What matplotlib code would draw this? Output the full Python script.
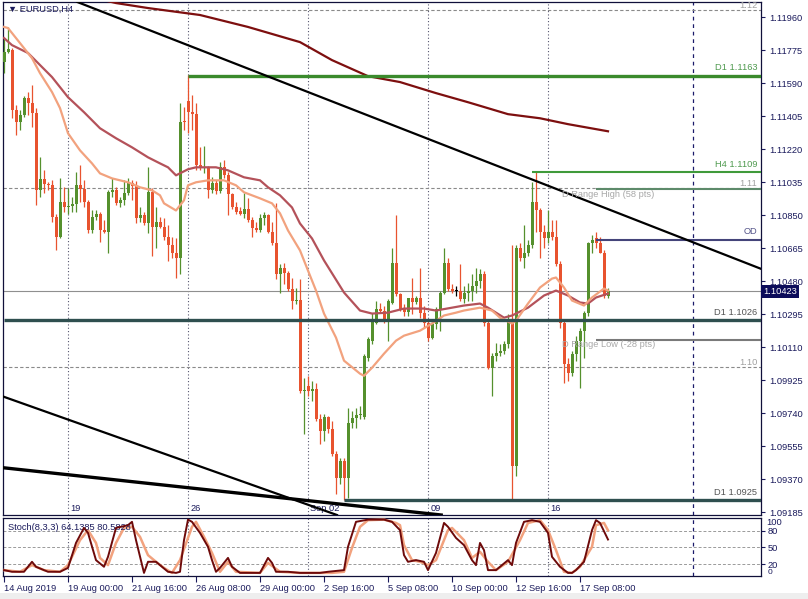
import matplotlib
matplotlib.use("Agg")
import matplotlib.pyplot as plt
import matplotlib.transforms as mtransforms
from matplotlib.patches import Rectangle
import numpy as np

# EURUSD H4 candles, first bar 14 Aug 2019 08:00
opens = [1.11708, 1.11764, 1.11776, 1.11438, 1.11371, 1.11410, 1.11506, 1.11478, 1.11422, 1.10989,
         1.11051, 1.11022, 1.11017, 1.10837, 1.10725, 1.10921, 1.10893, 1.10899, 1.10910, 1.11017,
         1.10994, 1.10921, 1.10764, 1.10837, 1.10859, 1.10764, 1.10758, 1.10978, 1.10989, 1.10916,
         1.10933, 1.10972, 1.11028, 1.11011, 1.10831, 1.10848, 1.10803, 1.10978, 1.10781, 1.10809,
         1.10781, 1.10725, 1.10680, 1.10640, 1.10612, 1.11380, 1.11489, 1.11427, 1.11416, 1.11129,
         1.11112, 1.11118, 1.10989, 1.11028, 1.10983, 1.11118, 1.11073, 1.10966, 1.10893, 1.10871,
         1.10854, 1.10882, 1.10820, 1.10775, 1.10764, 1.10831, 1.10848, 1.10753, 1.10691, 1.10522,
         1.10556, 1.10528, 1.10438, 1.10371, 1.10376, 1.09865, 1.09893, 1.09865, 1.09876, 1.09707,
         1.09640, 1.09719, 1.09651, 1.09511, 1.09376, 1.09471, 1.09376, 1.09685, 1.09713, 1.09730,
         1.09719, 1.10050, 1.10146, 1.10247, 1.10326, 1.10314, 1.10258, 1.10359, 1.10584, 1.10410,
         1.10326, 1.10309, 1.10385, 1.10365, 1.10387, 1.10303, 1.10247, 1.10163, 1.10242, 1.10326,
         1.10416, 1.10584, 1.10438, 1.10427, 1.10427, 1.10382, 1.10416, 1.10427, 1.10455, 1.10483,
         1.10522, 1.10247, 1.09994, 1.10061, 1.10078, 1.10090, 1.10129, 1.10258, 1.09443, 1.10668,
         1.10612, 1.10640, 1.10680, 1.10921, 1.10876, 1.10753, 1.10719, 1.10753, 1.10725, 1.10578,
         1.10247, 1.10016, 1.09966, 1.10073, 1.10146, 1.10202, 1.10303, 1.10691, 1.10720, 1.10691,
         1.10640, 1.10399]
highs = [1.11837, 1.11905, 1.11787, 1.11466, 1.11438, 1.11517, 1.11540, 1.11579, 1.11450, 1.11174,
         1.11101, 1.11034, 1.11045, 1.10859, 1.11056, 1.11006, 1.11000, 1.10949, 1.11090, 1.11129,
         1.11045, 1.10933, 1.10876, 1.10876, 1.10865, 1.10820, 1.10989, 1.11056, 1.11006, 1.10949,
         1.11045, 1.11056, 1.11045, 1.11039, 1.10893, 1.10865, 1.11118, 1.11000, 1.10893, 1.10837,
         1.10831, 1.10792, 1.10725, 1.10719, 1.11478, 1.11455, 1.11635, 1.11523, 1.11478, 1.11230,
         1.11236, 1.11124, 1.11062, 1.11045, 1.11146, 1.11157, 1.11090, 1.10972, 1.10921, 1.10893,
         1.10972, 1.10944, 1.10837, 1.10809, 1.10854, 1.10865, 1.10859, 1.10809, 1.10916, 1.10578,
         1.10584, 1.10539, 1.10500, 1.10444, 1.10494, 1.09938, 1.09949, 1.09921, 1.09910, 1.09735,
         1.09735, 1.09724, 1.09696, 1.09528, 1.09488, 1.09488, 1.09769, 1.09752, 1.09769, 1.09780,
         1.10073, 1.10168, 1.10303, 1.10371, 1.10359, 1.10342, 1.10382, 1.10668, 1.10848, 1.10416,
         1.10354, 1.10371, 1.10500, 1.10399, 1.10556, 1.10342, 1.10258, 1.10258, 1.10337, 1.10427,
         1.10668, 1.10607, 1.10466, 1.10455, 1.10578, 1.10455, 1.10472, 1.10522, 1.10556, 1.10550,
         1.10539, 1.10258, 1.10078, 1.10135, 1.10129, 1.10146, 1.10297, 1.10680, 1.10680, 1.10691,
         1.10792, 1.10708, 1.11034, 1.11090, 1.10888, 1.10792, 1.10876, 1.10820, 1.10820, 1.10595,
         1.10258, 1.10050, 1.10090, 1.10174, 1.10219, 1.10314, 1.10697, 1.10736, 1.10753, 1.10725,
         1.10652, 1.10444]
lows = [1.11646, 1.11759, 1.11393, 1.11298, 1.11326, 1.11399, 1.11410, 1.11343, 1.10904, 1.10949,
        1.10972, 1.10989, 1.10809, 1.10652, 1.10719, 1.10865, 1.10859, 1.10865, 1.10865, 1.10921,
        1.10893, 1.10747, 1.10747, 1.10820, 1.10697, 1.10747, 1.10640, 1.10949, 1.10904, 1.10893,
        1.10904, 1.10961, 1.10933, 1.10803, 1.10809, 1.10792, 1.10747, 1.10623, 1.10668, 1.10775,
        1.10708, 1.10595, 1.10612, 1.10500, 1.10522, 1.11326, 1.11309, 1.11326, 1.11101, 1.11101,
        1.11084, 1.10944, 1.10972, 1.10966, 1.10972, 1.11056, 1.10848, 1.10882, 1.10854, 1.10848,
        1.10831, 1.10809, 1.10725, 1.10753, 1.10753, 1.10792, 1.10747, 1.10680, 1.10494, 1.10416,
        1.10466, 1.10427, 1.10326, 1.10354, 1.09854, 1.09623, 1.09837, 1.09809, 1.09696, 1.09567,
        1.09584, 1.09629, 1.09499, 1.09286, 1.09342, 1.09250, 1.09263, 1.09657, 1.09657, 1.09707,
        1.09707, 1.10033, 1.10129, 1.10242, 1.10303, 1.10247, 1.10146, 1.10354, 1.10399, 1.10314,
        1.10286, 1.10286, 1.10297, 1.10354, 1.10275, 1.10219, 1.10146, 1.10157, 1.10213, 1.10202,
        1.10410, 1.10427, 1.10416, 1.10399, 1.10371, 1.10359, 1.10371, 1.10371, 1.10416, 1.10444,
        1.10230, 1.09988, 1.09837, 1.10033, 1.10061, 1.10073, 1.10106, 1.09250, 1.09387, 1.10595,
        1.10556, 1.10623, 1.10668, 1.10753, 1.10607, 1.10668, 1.10691, 1.10708, 1.10567, 1.10219,
        1.09910, 1.09921, 1.09949, 1.10033, 1.09882, 1.10050, 1.10286, 1.10640, 1.10668, 1.10635,
        1.10387, 1.10387]
closes = [1.11764, 1.11781, 1.11438, 1.11371, 1.11410, 1.11506, 1.11478, 1.11422, 1.10989, 1.11051,
          1.11022, 1.11017, 1.10837, 1.10725, 1.10921, 1.10893, 1.10899, 1.10910, 1.11017, 1.10994,
          1.10921, 1.10764, 1.10837, 1.10859, 1.10764, 1.10758, 1.10978, 1.10989, 1.10916, 1.10933,
          1.10972, 1.11028, 1.11011, 1.10831, 1.10848, 1.10803, 1.10978, 1.10781, 1.10809, 1.10781,
          1.10725, 1.10680, 1.10640, 1.10612, 1.11371, 1.11371, 1.11427, 1.11416, 1.11129, 1.11112,
          1.11118, 1.10989, 1.11028, 1.10983, 1.11118, 1.11073, 1.10966, 1.10893, 1.10865, 1.10854,
          1.10882, 1.10820, 1.10775, 1.10764, 1.10831, 1.10848, 1.10753, 1.10691, 1.10522, 1.10556,
          1.10528, 1.10438, 1.10371, 1.10376, 1.09865, 1.09870, 1.09865, 1.09876, 1.09707, 1.09640,
          1.09719, 1.09651, 1.09511, 1.09376, 1.09471, 1.09376, 1.09685, 1.09713, 1.09730, 1.09735,
          1.10061, 1.10157, 1.10258, 1.10326, 1.10314, 1.10258, 1.10371, 1.10584, 1.10410, 1.10326,
          1.10309, 1.10385, 1.10365, 1.10387, 1.10303, 1.10247, 1.10163, 1.10242, 1.10326, 1.10416,
          1.10584, 1.10438, 1.10427, 1.10427, 1.10382, 1.10416, 1.10427, 1.10455, 1.10483, 1.10522,
          1.10247, 1.09994, 1.10061, 1.10078, 1.10090, 1.10129, 1.10258, 1.09443, 1.10668, 1.10612,
          1.10640, 1.10680, 1.10921, 1.10876, 1.10753, 1.10719, 1.10753, 1.10725, 1.10578, 1.10247,
          1.10016, 1.09966, 1.10073, 1.10146, 1.10202, 1.10303, 1.10691, 1.10708, 1.10691, 1.10640,
          1.10399, 1.10423]

# moving averages (bar index, value)
ma_fast_bars = [0, 1, 7, 9, 12, 14, 16, 19, 22, 24, 27, 31, 34, 37, 39, 40, 43, 45, 46, 48,
                51, 55, 58, 60, 64, 67, 69, 71, 74, 76, 78, 80, 83, 85, 89, 90, 92, 95, 98, 100,
                104, 107, 110, 113, 115, 119, 122, 124, 127, 128, 131, 134, 137, 138, 140, 142, 145, 147, 150, 151]
ma_fast = [1.11905, 1.11899, 1.11730, 1.11646, 1.11540, 1.11450, 1.11309, 1.11213, 1.11140, 1.11084,
           1.11056, 1.11034, 1.11006, 1.10989, 1.10961, 1.10916, 1.10876, 1.10933, 1.11017, 1.11034,
           1.11045, 1.11045, 1.11017, 1.10978, 1.10944, 1.10916, 1.10860, 1.10764, 1.10652, 1.10539,
           1.10427, 1.10298, 1.10163, 1.10034, 1.09961, 1.09949, 1.09994, 1.10073, 1.10146, 1.10174,
           1.10202, 1.10242, 1.10287, 1.10303, 1.10315, 1.10331, 1.10315, 1.10275, 1.10242, 1.10258,
           1.10354, 1.10444, 1.10494, 1.10500, 1.10444, 1.10371, 1.10343, 1.10388, 1.10438, 1.10427]
ma_mid_bars = [0, 2, 6, 12, 16, 20, 24, 28, 32, 36, 39, 41, 43, 46, 48, 53, 56, 60, 64, 66,
               69, 72, 74, 77, 80, 85, 89, 92, 96, 100, 105, 108, 112, 115, 119, 121, 125, 127, 131, 135,
               138, 141, 144, 146, 148, 151]
ma_mid = [1.11843, 1.11803, 1.11759, 1.11624, 1.11511, 1.11427, 1.11337, 1.11281, 1.11230, 1.11174,
          1.11140, 1.11118, 1.11073, 1.11107, 1.11118, 1.11118, 1.11101, 1.11062, 1.11045, 1.11006,
          1.10961, 1.10893, 1.10803, 1.10719, 1.10596, 1.10416, 1.10315, 1.10298, 1.10303, 1.10326,
          1.10326, 1.10315, 1.10331, 1.10343, 1.10354, 1.10331, 1.10275, 1.10287, 1.10331, 1.10399,
          1.10427, 1.10399, 1.10360, 1.10354, 1.10388, 1.10410]
ma_slow_bars = [24, 28, 36, 49, 61, 74, 82, 91, 99, 108, 116, 126, 134, 141, 151]
ma_slow = [1.12060, 1.12039, 1.12011, 1.11972, 1.11905, 1.11820, 1.11719, 1.11629, 1.11596, 1.11534,
           1.11483, 1.11416, 1.11393, 1.11360, 1.11320]

# Stochastic (8,3,3)
k_bars = [0, 2, 5, 7, 8, 11, 14, 16, 18, 20, 21, 23, 25, 26, 28, 31, 32, 33, 35, 36,
          38, 41, 43, 44, 45, 46, 47, 49, 51, 52, 53, 54, 56, 57, 59, 62, 64, 66, 67, 68,
          71, 74, 79, 81, 85, 86, 88, 91, 95, 97, 99, 100, 101, 103, 105, 106, 108, 110, 111, 113,
          115, 117, 118, 119, 120, 121, 123, 126, 127, 128, 130, 132, 134, 136, 137, 139, 141, 142, 143, 145,
          147, 148, 149, 151]
k_vals = [9, 6, 6, 24, 15, 6, 6, 13, 58, 85, 76, 27, 15, 33, 85, 90, 96, 63, 4, 24,
          24, 6, 4, 6, 63, 100, 96, 76, 51, 27, 6, 13, 31, 15, 4, 4, 4, 31, 22, 6,
          6, 4, 4, 6, 9, 51, 96, 100, 100, 96, 81, 36, 24, 27, 24, 9, 40, 94, 87, 67,
          54, 27, 18, 58, 45, 9, 9, 27, 18, 58, 96, 99, 96, 76, 33, 15, 4, 4, 9, 24,
          81, 99, 94, 64.14]
d_bars = [0, 4, 7, 10, 14, 16, 19, 21, 23, 24, 26, 28, 30, 32, 34, 36, 38, 40, 42, 44,
          47, 48, 50, 52, 54, 56, 58, 64, 66, 69, 74, 82, 85, 87, 89, 91, 95, 98, 99, 100,
          102, 104, 106, 108, 111, 112, 115, 117, 119, 121, 123, 126, 129, 131, 134, 136, 138, 140, 142, 144,
          147, 148, 150, 151]
d_vals = [9, 6, 18, 9, 6, 18, 63, 81, 58, 31, 18, 58, 85, 87, 69, 36, 24, 13, 4, 27,
          87, 96, 69, 40, 6, 24, 6, 4, 22, 6, 4, 4, 6, 49, 87, 99, 100, 94, 90, 54,
          27, 24, 18, 27, 81, 85, 63, 31, 42, 24, 9, 24, 63, 94, 99, 81, 45, 6, 4, 15,
          51, 90, 94, 80.58]

# levels: (label, price, first bar)
levels = [("D1 1.1163", 1.1163, 46), ("H4 1.1109", 1.1109, 132),
          ("D1 1.1026", 1.1026, 0), ("D1 1.0925", 1.0925, 85)]
open_day = 1.10713
range_high = 1.10995
range_low = 1.10152
round_levels = [1.12, 1.11, 1.10]
last_price = 1.10423

# trendlines: two anchor points (bar, price)
trend_lines = [((19, 1.12039), (189, 1.10551), 1.6),
               ((0, 1.09831), (73, 1.09250), 1.6),
               ((0, 1.09433), (100, 1.09191), 2.4)]

week_bars = [16, 46, 76, 106, 136]
week_labels = ["19", "26", "Sep 02", "09", "16"]
date_bars = [0, 16, 32, 48, 64, 80, 96, 112, 128, 144]
date_labels = ["14 Aug 2019", "19 Aug 00:00", "21 Aug 16:00", "26 Aug 08:00", "29 Aug 00:00",
               "2 Sep 16:00", "5 Sep 08:00", "10 Sep 00:00", "12 Sep 16:00", "17 Sep 08:00"]

NAVY = "#1a1a5c"
GREEN = "#55902d"
RED = "#e8532f"
FS = 6.7

W, H = 808, 599
def box(x0, y0, x1, y1):
    return [x0 / W, 1 - y1 / H, (x1 - x0) / W, (y1 - y0) / H]

plt.rcParams["font.family"] = ["Liberation Sans", "DejaVu Sans"]
fig = plt.figure(figsize=(W / 100, H / 100), dpi=100)
fig.patches.append(Rectangle((0, 0), 1, 6 / H, transform=fig.transFigure,
                             facecolor="#eeeeee", edgecolor="none"))
ax = fig.add_axes(box(3, 2, 761, 515))
ax2 = fig.add_axes(box(3, 518, 761, 576))

# candles
o, hi, lo, c = map(np.array, (opens, highs, lows, closes))
x = np.arange(len(c))
col = np.where(c > o, GREEN, np.where(c < o, RED, "black"))
ax.vlines(x, lo, hi, colors=col, lw=0.9, zorder=3)
body = np.maximum(np.abs(c - o), 0.00003)
ax.bar(x, body, bottom=np.minimum(o, c), width=0.75, color=col, linewidth=0, zorder=4)

# moving averages
ax.plot(ma_slow_bars, ma_slow, color="#7d0f0f", lw=1.6, zorder=5)
ax.plot(ma_mid_bars, ma_mid, color="#b4525a", lw=1.6, zorder=5)
ax.plot(ma_fast_bars, ma_fast, color="#f2a27e", lw=1.6, zorder=5)

xmax = 189.25
ax.set_xlim(-0.25, xmax)
ax.set_ylim(1.091685, 1.120449)

tr = mtransforms.blended_transform_factory(ax.transAxes, ax.transData)

# round numbers
for lv in round_levels:
    ax.axhline(lv, color="#8a8a8a", lw=0.8, ls=(0, (3, 2)), zorder=2)
    ax.text(0.995, lv, f"{lv:.2f}", transform=tr, ha="right", va="bottom",
            fontsize=FS, color="#a0a0a0", clip_on=True)
ax.axhline(last_price, color="#8f8f8f", lw=0.8, zorder=2)

lv_cols = {"D1 1.1163": "#3a8a2c", "H4 1.1109": "#3f9a3a", "D1 1.1026": "#2f4f4f", "D1 1.0925": "#2f4f4f"}
lv_text = {"D1 1.1163": "#4f9a4f", "H4 1.1109": "#4f9a4f", "D1 1.1026": "#555555", "D1 1.0925": "#555555"}
for name, price, start in levels:
    lw = 1.5 if name.startswith("H4") else 2.4
    ax.hlines(price, start, xmax, color=lv_cols[name], lw=lw, zorder=6)
    ax.text(0.995, price + 0.0002, name, transform=tr, ha="right", va="bottom",
            fontsize=FS, color=lv_text[name])

ax.hlines(open_day, 148, xmax, color="#44447a", lw=1.5, zorder=6)
ax.text(0.995, open_day + 0.0002, "OD", transform=tr, ha="right", va="bottom", fontsize=FS, color="#55558a")
ax.hlines(range_high, 148, xmax, color="#5d8a6a", lw=1.5, zorder=6)
ax.hlines(range_low, 148, xmax, color="#7a7a7a", lw=1.5, zorder=6)
ax.text(139.5, range_high - 0.0003, "D Range High (58 pts)", ha="left", va="center",
        fontsize=FS, color="#a8a8a8", zorder=7)
ax.text(139.5, range_low - 0.0003, "D Range Low (-28 pts)", ha="left", va="center",
        fontsize=FS, color="#a8a8a8", zorder=7)

for p1, p2, lw in trend_lines:
    ax.axline(p1, p2, color="black", lw=lw, zorder=6)

# week separators
for a in (ax, ax2):
    for b in week_bars:
        a.axvline(b, color="#55556e", lw=0.8, ls=(0, (1, 2)), zorder=1)
    a.axvline(172.25, color="#1a1a6a", lw=0.9, ls=(0, (3, 3)), zorder=1)
trw = mtransforms.blended_transform_factory(ax.transData, ax.transAxes)
for b, s in zip(week_bars, week_labels):
    ax.text(b + 0.6, 0.013, s, transform=trw, ha="left", va="center", fontsize=FS, color=NAVY)

ax.text(0.006, 0.985, "\u25bc EURUSD,H4", transform=ax.transAxes, ha="left", va="center",
        fontsize=FS, color=NAVY)

# right price axis
ax.yaxis.tick_right()
ticks = 1.09185 + 0.00185 * np.arange(16)
ax.set_yticks(ticks)
ax.set_yticklabels([f"{t:.5f}" for t in ticks])
ax.tick_params(axis="y", direction="out", length=3, width=0.8, colors=NAVY, labelsize=FS, pad=3)
ax.set_xticks([])
ax.text(1.003, last_price, f"{last_price:.5f}", transform=tr, ha="left", va="center",
        fontsize=FS, color="white",
        bbox=dict(boxstyle="square,pad=0.2", facecolor="#0c0c5a", edgecolor="none"))

# stochastic
ax2.set_xlim(-0.25, xmax)
ax2.set_ylim(-1.6, 102.9)
for lv in (20, 50, 80):
    ax2.axhline(lv, color="#9a9a9a", lw=0.7, ls=(0, (3, 2)), zorder=1)
ax2.plot(d_bars, d_vals, color="#f2a27e", lw=1.8, zorder=3)
ax2.plot(k_bars, k_vals, color="#6e0a0a", lw=1.4, zorder=4)
ax2.text(0.007, 0.84, "Stoch(8,3,3) 64.1385 80.5828", transform=ax2.transAxes, ha="left",
         va="center", fontsize=FS, color=NAVY)
ax2.yaxis.tick_right()
ax2.set_yticks([20, 50, 80])
ax2.set_yticklabels(["20", "50", "80"])
ax2.tick_params(axis="y", direction="out", length=3, width=0.8, colors=NAVY, labelsize=FS, pad=2)
tr2 = mtransforms.blended_transform_factory(ax2.transAxes, ax2.transData)
ax2.text(1.007, 95, "100", transform=tr2, ha="left", va="center", fontsize=FS, color=NAVY)
ax2.text(1.009, 4, "0", transform=tr2, ha="left", va="center", fontsize=6, color=NAVY)
ax2.set_xticks(date_bars)
ax2.set_xticklabels(date_labels)
for t in ax2.get_xticklabels():
    t.set_ha("left")
ax2.tick_params(axis="x", direction="out", length=4, width=0.8, colors=NAVY, labelsize=FS, pad=2)

for a in (ax, ax2):
    for sp in a.spines.values():
        sp.set_color("#10103a")
        sp.set_linewidth(0.9)

fig.savefig("out.png", dpi=100, facecolor="white")
